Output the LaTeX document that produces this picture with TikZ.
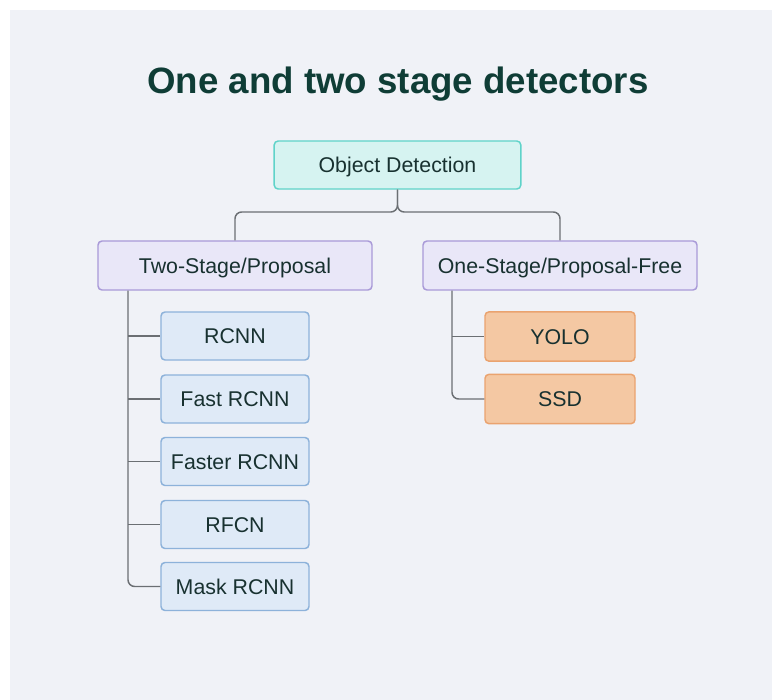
\documentclass[tikz,border=0pt]{standalone}
\usepackage{fontspec}
\setmainfont{Liberation Sans}
\definecolor{bgc}{HTML}{F0F2F7}
\definecolor{titlec}{HTML}{0F3D36}
\definecolor{txtc}{HTML}{183130}
\definecolor{linec}{HTML}{6B6F73}
\definecolor{tealf}{HTML}{D6F3F1}
\definecolor{teald}{HTML}{5FD3C9}
\definecolor{lavf}{HTML}{E9E7F8}
\definecolor{lavd}{HTML}{A99AD8}
\definecolor{bluef}{HTML}{DFEAF7}
\definecolor{blued}{HTML}{8DB2DA}
\definecolor{orf}{HTML}{F4C8A3}
\definecolor{ord}{HTML}{EAA36F}
\tikzset{
  box/.style={draw, line width=1.1pt, rounded corners=3pt, inner sep=0pt,
    text=txtc, font=\fontsize{16}{19}\selectfont, text height=11.5pt, text depth=0pt},
  rootbox/.style={box, fill=tealf, draw=teald, minimum width=185pt, minimum height=36pt},
  midbox/.style={box, fill=lavf, draw=lavd, minimum width=205.5pt, minimum height=36.75pt},
  leafl/.style={box, fill=bluef, draw=blued, minimum width=111pt, minimum height=36pt},
  leafr/.style={box, fill=orf, draw=ord, minimum width=112.5pt, minimum height=37pt},
  conn/.style={draw=linec, line width=1.1pt},
}
\begin{document}
\begin{tikzpicture}[x=0.75pt, y=-0.75pt]
\useasboundingbox (0,0) rectangle (772,700);
\fill[bgc] (10,10) rectangle (772,700);
\node[font=\bfseries\fontsize{27.5}{32}\selectfont, text=titlec, text height=20pt, text depth=0pt] (title) at (398,80) {One and two stage detectors};
\node[rootbox] (od) at (397.5,165) {Object Detection};
\node[midbox] (ts) at (235,265.5) {Two-Stage/Proposal};
\node[midbox] (os) at (560,265.5) {One-Stage/Proposal-Free};
\node[leafl] (rcnn) at (235,336) {RCNN};
\node[leafl] (fast) at (235,399) {Fast RCNN};
\node[leafl] (faster) at (235,461.5) {Faster RCNN};
\node[leafl] (rfcn) at (235,524.5) {RFCN};
\node[leafl] (mask) at (235,586.5) {Mask RCNN};
\node[leafr] (yolo) at (560,336.5) {YOLO};
\node[leafr] (ssd) at (560,399) {SSD};
\coordinate (j) at (397.5,212);
\draw[conn, rounded corners=5pt] (od.south) -- (j) -| (ts.north);
\draw[conn, rounded corners=5pt] (od.south) -- (j) -| (os.north);
\coordinate (lt) at (128,290);
\draw[conn, rounded corners=5pt] (ts.south -| lt) |- (mask.west);
\foreach \n in {rcnn,fast,faster,rfcn} \draw[conn] (\n.west -| lt) -- (\n.west);
\coordinate (rt) at (452,290);
\draw[conn, rounded corners=5pt] (os.south -| rt) |- (ssd.west);
\draw[conn] (yolo.west -| rt) -- (yolo.west);
\end{tikzpicture}
\end{document}
